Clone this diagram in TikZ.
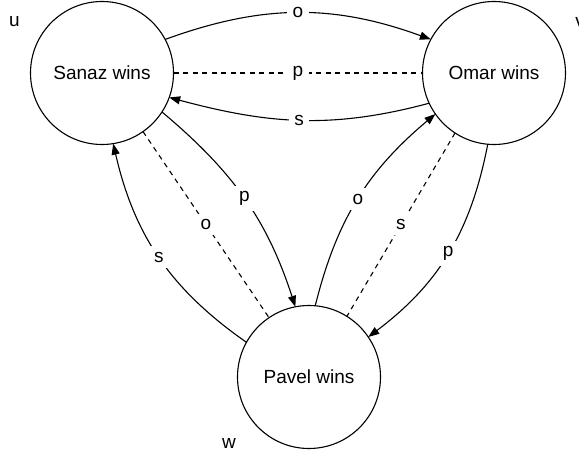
\documentclass[tikz,border=0pt]{standalone}
\usepackage{fontspec}
\setmainfont{Liberation Sans}
\usetikzlibrary{arrows.meta}
\begin{document}
\begin{tikzpicture}[x=1pt,y=1pt,
  txt/.style={font=\fontsize{19}{23}\selectfont},
  state/.style={txt,circle,draw,line width=1.1pt,minimum size=143pt,inner sep=0pt,outer sep=0pt},
  lbl/.style={txt,fill=white,inner sep=5.5pt},
  edge/.style={line width=1.1pt,-{Triangle[length=11pt,width=8pt]}},
  dashedge/.style={line width=1.1pt,dash pattern=on 5pt off 4.5pt},
  corner/.style={txt,inner sep=0pt}]
\useasboundingbox (0,0) rectangle (579,456);
\node[state] (S) at (102,383) {Sanaz wins};
\node[state] (O) at (494,383) {Omar wins};
\node[state] (P) at (309,79) {Pavel wins};
\node[corner] (u) at (14.5,434.5) {u};
\node[corner] (v) at (580,434) {v};
\node[corner] (w) at (229,13) {w};
% Sanaz - Omar
\draw[edge] (S.28) to[out=20,in=160] node[lbl]{o} (O.152);
\draw[dashedge] (S.0) -- node[lbl]{p} (O.180);
\draw[edge] (O.205) to[out=195,in=-15] node[lbl]{s} (S.340);
% Sanaz - Pavel
\draw[edge] (S.327) to[out=-40,in=108] node[lbl]{p} (P.101);
\draw[dashedge] (S.305) -- node[lbl]{o} (P.124);
\draw[edge] (P.151) to[out=145,in=-77] node[lbl]{s} (S.279);
% Omar - Pavel
\draw[edge] (P.85) to[out=76,in=220] node[lbl]{o} (O.215);
\draw[dashedge] (O.237) -- node[lbl]{s} (P.58);
\draw[edge] (O.265) to[out=259,in=37] node[lbl]{p} (P.34);
\end{tikzpicture}
\end{document}
